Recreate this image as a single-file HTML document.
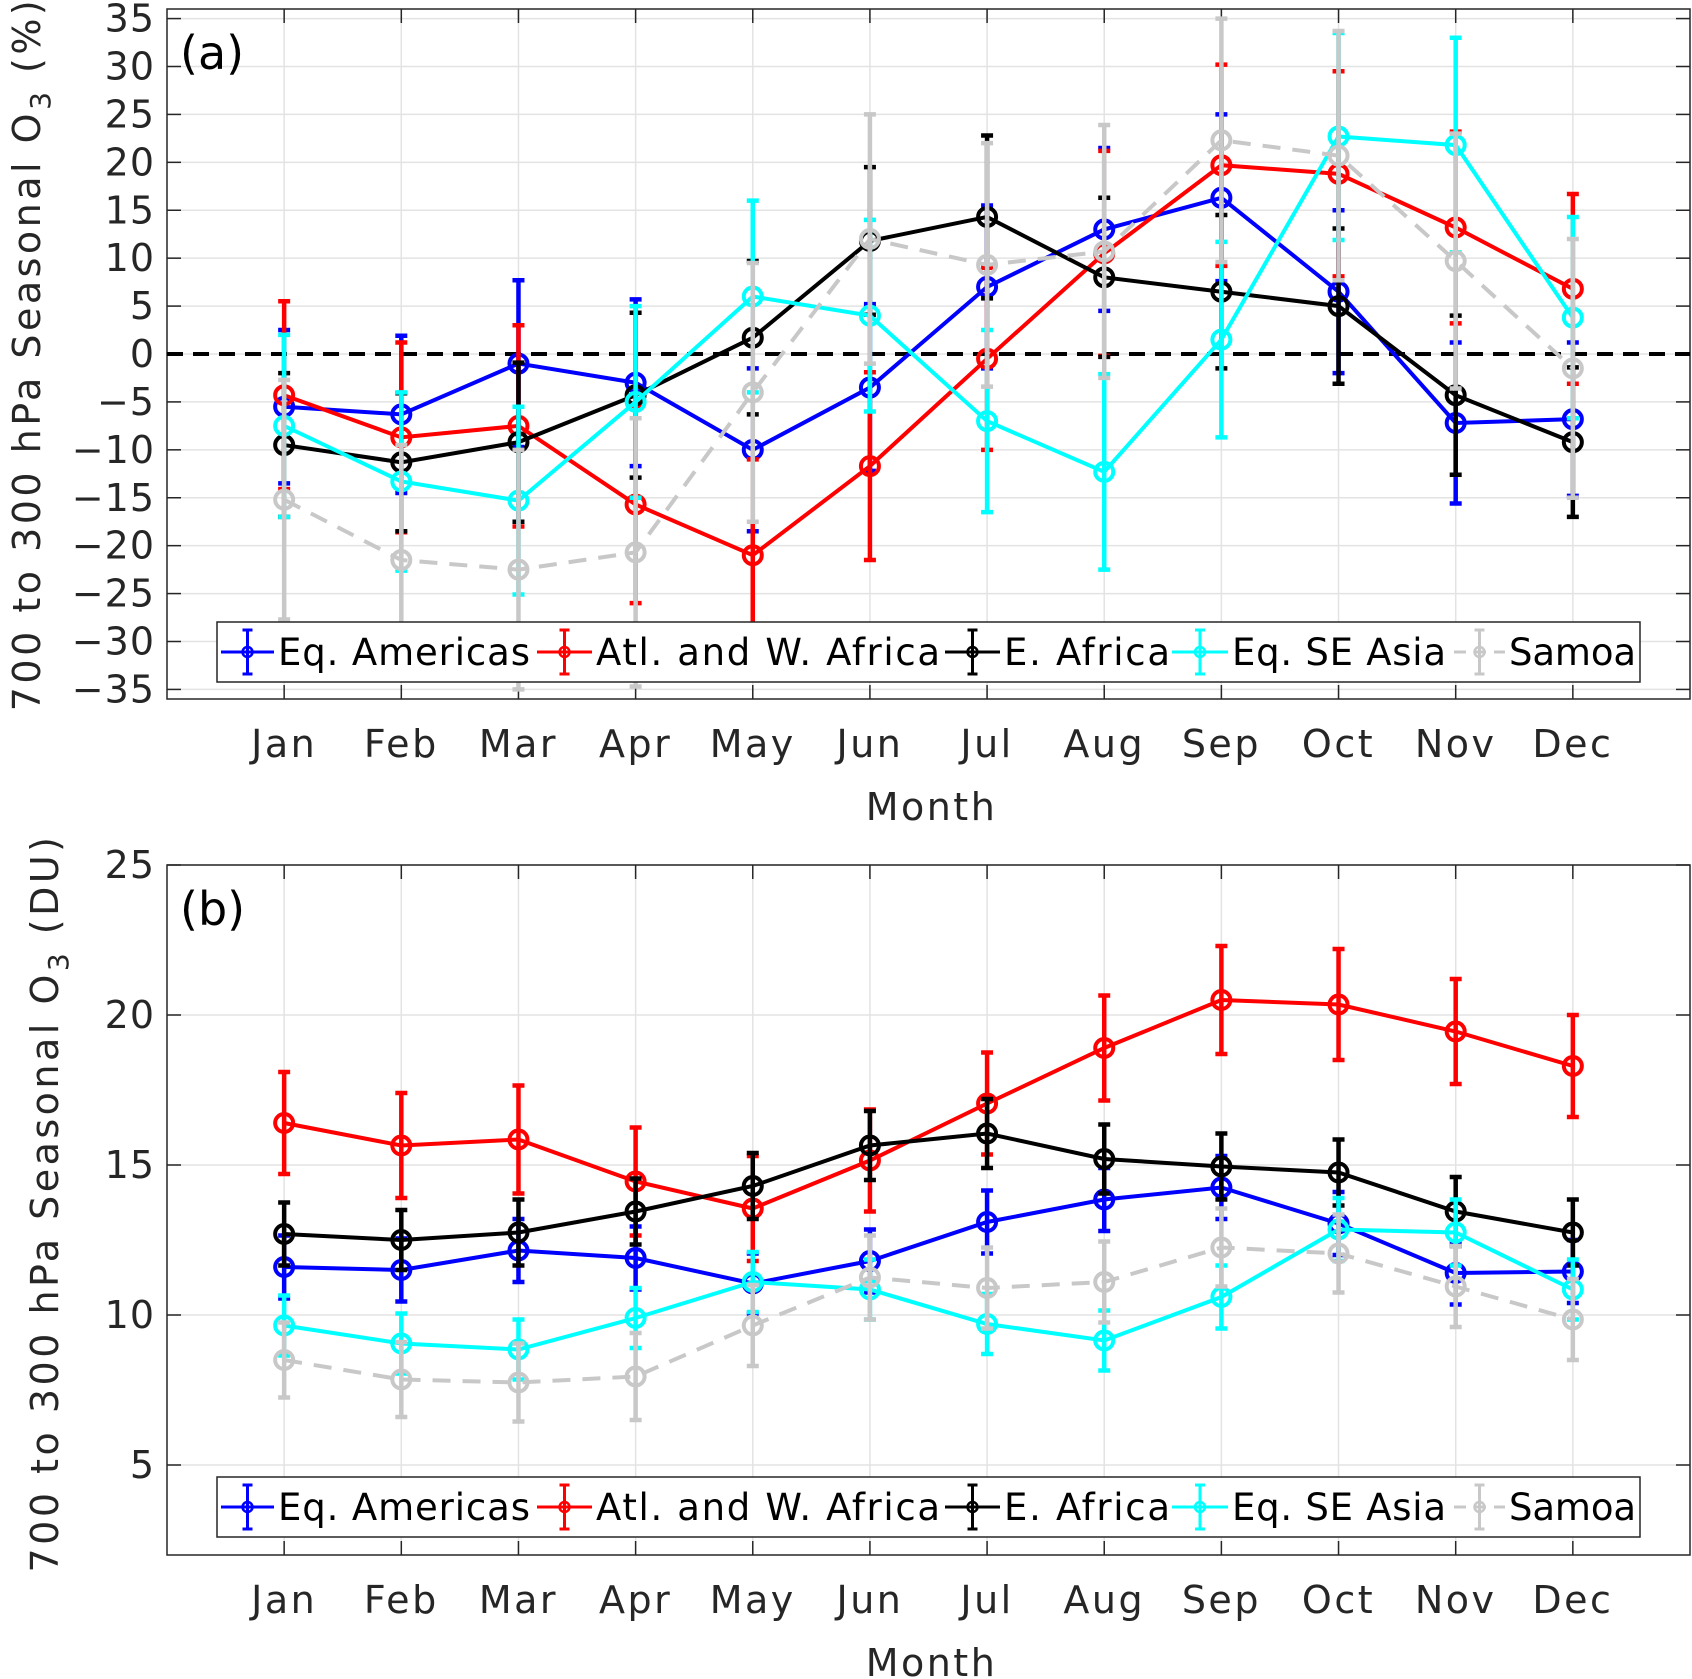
<!DOCTYPE html>
<html><head><meta charset="utf-8"><style>
html,body{margin:0;padding:0;background:#fff;}
svg{display:block;font-family:"DejaVu Sans","Liberation Sans",sans-serif;}
</style></head><body>
<svg id="fig" width="1692" height="1679" viewBox="0 0 1692 1679"></svg>
<script>
const months = ["Jan","Feb","Mar","Apr","May","Jun","Jul","Aug","Sep","Oct","Nov","Dec"];
const seriesNames = ["Eq. Americas","Atl. and W. Africa","E. Africa","Eq. SE Asia","Samoa"];
const seriesColors = ["#0000ff","#ff0000","#000000","#00ffff","#c8c8c8"];
// Panel (a) values (%)
const aAmericas = [-5.5,-6.3,-1,-3,-10,-3.5,7,13,16.3,6.5,-7.2,-6.8];
const aAtlantic = [-4.3,-8.7,-7.5,-15.7,-21,-11.7,-0.5,10.5,19.7,18.8,13.2,6.8];
const aEAfrica = [-9.5,-11.3,-9.2,-4.3,1.7,11.8,14.3,8,6.5,5,-4.3,-9.2];
const aSEAsia = [-7.5,-13.3,-15.3,-5,6,4,-7,-12.3,1.5,22.7,21.8,3.8];
const aSamoa = [-15.2,-21.5,-22.5,-20.7,-4,12,9.3,10.7,22.3,20.7,9.7,-1.5];
const aErrAmericas = [8,8.2,8.7,8.7,8.5,8.7,8.5,8.5,8.7,8.5,8.4,8];
const aErrAtlantic = [9.8,9.9,10.5,10.3,10,9.8,9.5,10.7,10.5,10.7,10,9.9];
const aErrEAfrica = [7.5,7.2,8.3,8.6,8,7.7,8.5,8.3,8,8.1,8.3,7.8];
const aErrSEAsia = [9.5,9.3,9.8,10,10,10,9.5,10.2,10.2,10.8,11.2,10.5];
const aErrSamoa = [12.5,12,12.5,14,13.5,13,12.7,13.2,12.7,13,13.3,13.5];
const aTicks = [-35,-30,-25,-20,-15,-10,-5,0,5,10,15,20,25,30,35];
// Panel (b) values (DU)
const bAmericas = [11.6,11.5,12.15,11.9,11.05,11.8,13.1,13.85,14.25,13.05,11.4,11.45];
const bAtlantic = [16.4,15.65,15.85,14.45,13.55,15.15,17.05,18.9,20.5,20.35,19.45,18.3];
const bEAfrica = [12.7,12.5,12.75,13.45,14.3,15.65,16.05,15.2,14.95,14.75,13.45,12.75];
const bSEAsia = [9.65,9.05,8.85,9.9,11.1,10.85,9.7,9.15,10.6,12.85,12.75,10.85];
const bSamoa = [8.5,7.85,7.75,7.95,9.65,11.25,10.9,11.1,12.25,12.05,10.95,9.85];
const bErrAmericas = [1.05,1.05,1.05,1.05,1.0,1.05,1.05,1.05,1.05,1.05,1.05,1.05];
const bErrAtlantic = [1.7,1.75,1.8,1.8,1.75,1.7,1.7,1.75,1.8,1.85,1.75,1.7];
const bErrEAfrica = [1.05,1.0,1.1,1.1,1.1,1.15,1.15,1.15,1.1,1.1,1.15,1.1];
const bErrSEAsia = [1.0,1.0,1.0,1.0,1.0,1.0,1.0,1.0,1.05,1.05,1.1,1.0];
const bErrSamoa = [1.25,1.25,1.3,1.45,1.35,1.4,1.35,1.35,1.3,1.3,1.35,1.35];
const bTicks = [5,10,15,20,25];

const NS = "http://www.w3.org/2000/svg";
const svg = document.getElementById("fig");
function el(tag, attrs, parent){
  const e = document.createElementNS(NS, tag);
  for (const k in attrs) e.setAttribute(k, attrs[k]);
  (parent||svg).appendChild(e);
  return e;
}
const X0 = 167, X1 = 1690;
function xScale(i){ return X0 + (i+1)/13*(X1-X0); }

function panel(cfg){
  const {top,bottom,ymin,ymax,ticks,series,errs,label,tag,ylabel,xlabY,monthY,legendY,zero,id} = cfg;
  const g = el("g",{});
  
  
  const y = v => bottom - (v-ymin)/(ymax-ymin)*(bottom-top);
  const clipId = "clip-"+id;
  const cp = el("clipPath",{id:clipId},g);
  el("rect",{x:X0,y:top,width:X1-X0,height:bottom-top},cp);
  const grid = el("g",{stroke:"#e3e3e3","stroke-width":1.5},g);
  
  
  months.forEach((m,i)=>{ el("line",{x1:xScale(i),x2:xScale(i),y1:top,y2:bottom},grid); });
  ticks.forEach(t=>{ el("line",{x1:X0,x2:X1,y1:y(t),y2:y(t)},grid); });
  const ax = el("g",{stroke:"#262626","stroke-width":1.5,fill:"none"},g);
  
  
  el("rect",{x:X0,y:top,width:X1-X0,height:bottom-top},ax);
  months.forEach((m,i)=>{
    el("line",{x1:xScale(i),x2:xScale(i),y1:bottom,y2:bottom-14},ax);
    el("line",{x1:xScale(i),x2:xScale(i),y1:top,y2:top+14},ax);
  });
  ticks.forEach(t=>{
    el("line",{x1:X0,x2:X0+14,y1:y(t),y2:y(t)},ax);
    el("line",{x1:X1,x2:X1-14,y1:y(t),y2:y(t)},ax);
  });
  ticks.forEach(t=>{
    const tx = el("text",{x:155,y:y(t)+13,"text-anchor":"end","font-size":38,"letter-spacing":1,"font-weight":500,fill:"#262626"},g);
    
    
    tx.textContent = t<0 ? "\u2212"+Math.abs(t) : String(t);
  });
  months.forEach((m,i)=>{
    const tx = el("text",{x:xScale(i),y:xlabY,"text-anchor":"middle","font-size":38,"letter-spacing":2.5,"font-weight":500,fill:"#262626"},g);
    
    
    tx.textContent = m;
  });
  const mt = el("text",{x:(X0+X1)/2+3,y:monthY,"text-anchor":"middle","font-size":38,"letter-spacing":2.5,"font-weight":500,fill:"#262626"},g);
  
  
  mt.textContent = "Month";
  const yl = el("text",{transform:`translate(${ylabel.x},${ylabel.y}) rotate(-90)`,"text-anchor":"middle","font-size":38,"letter-spacing":3.5,"font-weight":500,fill:"#262626"},g);
  
  
  yl.innerHTML = label;
  const pt = el("text",{x:180,y:top+60,"font-size":46,"font-weight":500,fill:"#000"},g);
  
  
  pt.textContent = tag;
  const dg = el("g",{"clip-path":`url(#${clipId})`},g);
  if (zero){
    const z = el("line",{x1:X0,x2:X1,y1:y(0),y2:y(0),stroke:"#000","stroke-width":4,"stroke-dasharray":"16,10"},dg);
    
    
  }
  series.forEach((vals,s)=>{
    const c = seriesColors[s];
    const sg = el("g",{},dg);
    
    
    vals.forEach((v,i)=>{
      const e = errs[s][i], xx = xScale(i);
      const eb = el("path",{d:`M${xx},${y(v-e)}V${y(v+e)}M${xx-6},${y(v-e)}H${xx+6}M${xx-6},${y(v+e)}H${xx+6}`,stroke:c,"stroke-width":4.5,fill:"none"},sg);
      
      
    });
    const pts = vals.map((v,i)=>xScale(i)+","+y(v)).join(" ");
    const ln = el("polyline",{points:pts,stroke:c,"stroke-width":4,fill:"none"},sg);
    if (s===4) ln.setAttribute("stroke-dasharray","18,12");
    
    
    vals.forEach((v,i)=>{
      const m = el("circle",{cx:xScale(i),cy:y(v),r:9,stroke:c,"stroke-width":4,fill:"none"},sg);
      
      
    });
  });
  const lg = el("g",{},g);
  
  
  el("rect",{x:217,y:legendY,width:1423,height:60,fill:"#fff",stroke:"#262626","stroke-width":1.5},lg);
  const lx = [[221,278,252],[537,596,344],[945,1004,166],[1172,1232,214],[1454,1509,127]];
  seriesNames.forEach((n,s)=>{
    const c = seriesColors[s], cy = legendY+30;
    const e = el("g",{},lg);
    
    
    const x0 = lx[s][0], x1 = lx[s][1]-4, cx=(x0+x1)/2;
    const l = el("line",{x1:x0,x2:x1,y1:cy,y2:cy,stroke:c,"stroke-width":3},e);
    if (s===4) l.setAttribute("stroke-dasharray","12,8");
    el("path",{d:`M${cx},${cy-22}V${cy+22}M${cx-5},${cy-22}H${cx+5}M${cx-5},${cy+22}H${cx+5}`,stroke:c,"stroke-width":3,fill:"none"},e);
    el("circle",{cx:cx,cy:cy,r:5,stroke:c,"stroke-width":2.5,fill:"none"},e);
    const t = el("text",{x:lx[s][1],y:cy+13,"font-size":37,"font-weight":500,textLength:lx[s][2],lengthAdjust:"spacing",fill:"#000"},e);
    t.textContent = n;
  });
}

panel({id:"panel-a",top:9,bottom:699,ymin:-36,ymax:36,ticks:aTicks,
  series:[aAmericas,aAtlantic,aEAfrica,aSEAsia,aSamoa],
  errs:[aErrAmericas,aErrAtlantic,aErrEAfrica,aErrSEAsia,aErrSamoa],
  label:'700 to 300 hPa Seasonal O<tspan font-size="28" dy="10">3</tspan><tspan dy="-10"> (%)</tspan>',
  tag:"(a)",ylabel:{x:40,y:354},xlabY:757,monthY:820,legendY:622,zero:true});
panel({id:"panel-b",top:865,bottom:1555,ymin:2,ymax:25,ticks:bTicks,
  series:[bAmericas,bAtlantic,bEAfrica,bSEAsia,bSamoa],
  errs:[bErrAmericas,bErrAtlantic,bErrEAfrica,bErrSEAsia,bErrSamoa],
  label:'700 to 300 hPa Seasonal O<tspan font-size="28" dy="10">3</tspan><tspan dy="-10"> (DU)</tspan>',
  tag:"(b)",ylabel:{x:58,y:1203},xlabY:1613,monthY:1676,legendY:1477,zero:false});
</script>
</body></html>
